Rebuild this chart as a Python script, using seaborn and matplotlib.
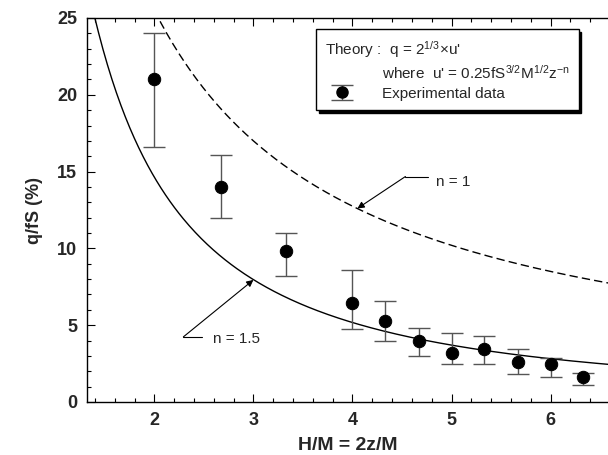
import numpy as np
import seaborn as sns
import matplotlib.pyplot as plt
from matplotlib.lines import Line2D
from matplotlib.legend_handler import HandlerTuple
from matplotlib.ticker import MultipleLocator

# experimental points
hm = [2.0, 2.67, 3.33, 4.0, 4.33, 4.67, 5.0, 5.33, 5.67, 6.0, 6.33]
q_fs = [21.0, 14.0, 9.8, 6.45, 5.3, 3.95, 3.2, 3.45, 2.6, 2.45, 1.6]
q_hi = [24.0, 16.1, 11.0, 8.6, 6.6, 4.8, 4.5, 4.3, 3.45, 2.85, 1.9]
q_lo = [16.6, 12.0, 8.2, 4.75, 4.0, 3.0, 2.5, 2.5, 1.8, 1.65, 1.1]

# theory q ~ C * (H/M)^-n
n_values = [1.0, 1.5]
theory_coef = [51.0, 41.4]
theory_dashes = [(6, 3), None]

xlim = (1.32, 6.58)
ylim = (0, 25)

sns.set_style('ticks')
plt.rcParams['font.family'] = ['Liberation Sans', 'DejaVu Sans']
plt.rcParams['mathtext.fontset'] = 'custom'
plt.rcParams['mathtext.rm'] = 'Liberation Sans'
plt.rcParams['mathtext.it'] = 'Liberation Sans'

fig = plt.figure(figsize=(6.08, 4.55), dpi=100)
ax = fig.add_axes([87 / 608, 53 / 455, 521 / 608, 384 / 455])

xs = np.linspace(1.0, 7.0, 400)
for n, c, d in zip(n_values, theory_coef, theory_dashes):
    line = sns.lineplot(x=xs, y=c * xs ** -n, ax=ax, color='black', lw=1.0,
                        legend=False).lines[-1]
    if d is not None:
        line.set_dashes(d)

q_arr = np.array(q_fs)
yerr = [q_arr - np.array(q_lo), np.array(q_hi) - q_arr]
eb = ax.errorbar(hm, q_fs, yerr=yerr, fmt='none', ecolor='#555555',
                 elinewidth=1.0, capsize=8, capthick=1.0, zorder=3)
sns.scatterplot(x=hm, y=q_fs, ax=ax, color='black', s=80, edgecolor='black',
                zorder=4, legend=False)

# leader lines with arrows for the n labels
ax.plot([2.485, 2.293], [4.24, 4.24], color='black', lw=0.8)
ax.annotate('', xy=(3.0, 7.95), xytext=(2.293, 4.24),
            arrowprops=dict(arrowstyle='-|>', color='black', lw=0.8,
                            mutation_scale=10, shrinkA=0, shrinkB=0))
ax.text(2.59, 4.1, 'n = 1.5', fontsize=11, va='center', ha='left')

ax.plot([4.76, 4.535], [14.68, 14.68], color='black', lw=0.8)
ax.annotate('', xy=(4.05, 12.6), xytext=(4.535, 14.68),
            arrowprops=dict(arrowstyle='-|>', color='black', lw=0.8,
                            mutation_scale=10, shrinkA=0, shrinkB=0))
ax.text(4.84, 14.3, 'n = 1', fontsize=11, va='center', ha='left')

ax.set_xlim(*xlim)
ax.set_ylim(*ylim)
ax.xaxis.set_major_locator(MultipleLocator(1))
ax.xaxis.set_minor_locator(MultipleLocator(0.2))
ax.yaxis.set_major_locator(MultipleLocator(5))
ax.yaxis.set_minor_locator(MultipleLocator(1))
ax.tick_params(which='both', direction='in', top=True, right=False,
               width=0.8, color='black')
ax.tick_params(which='major', length=6, labelsize=13, pad=7)
ax.tick_params(which='minor', length=3)
for lab in ax.get_xticklabels() + ax.get_yticklabels():
    lab.set_fontweight('bold')
ax.spines['right'].set_visible(False)
for s in ['left', 'bottom', 'top']:
    ax.spines[s].set_linewidth(1.0)
    ax.spines[s].set_color('black')

ax.set_xlabel('H/M = 2z/M', fontsize=14, fontweight='bold', labelpad=6)
ax.set_ylabel('q/fS (%)', fontsize=13, fontweight='bold', labelpad=10)

# legend box with the theory formula
blank = Line2D([], [], linestyle='none')
dot = Line2D([], [], linestyle='none', marker='o', color='black',
             markersize=8)
leg = ax.legend([blank, (eb, dot)],
                ["where  u' = 0.25fS$^{3/2}$M$^{1/2}$z$^{-n}$",
                 'Experimental data'],
                handler_map={tuple: HandlerTuple(ndivide=1)},
                title="Theory :  q = 2$^{1/3}$×u'", alignment='left',
                loc='upper left', bbox_to_anchor=(0.425, 0.99),
                fontsize=11, title_fontsize=11, frameon=True, fancybox=False,
                shadow={'color': 'black', 'alpha': 1.0},
                edgecolor='black', handlelength=2.2, handletextpad=1.5,
                borderpad=0.6, labelspacing=0.3)
leg.get_frame().set_linewidth(1.0)

fig.savefig('out.png', dpi=100)
